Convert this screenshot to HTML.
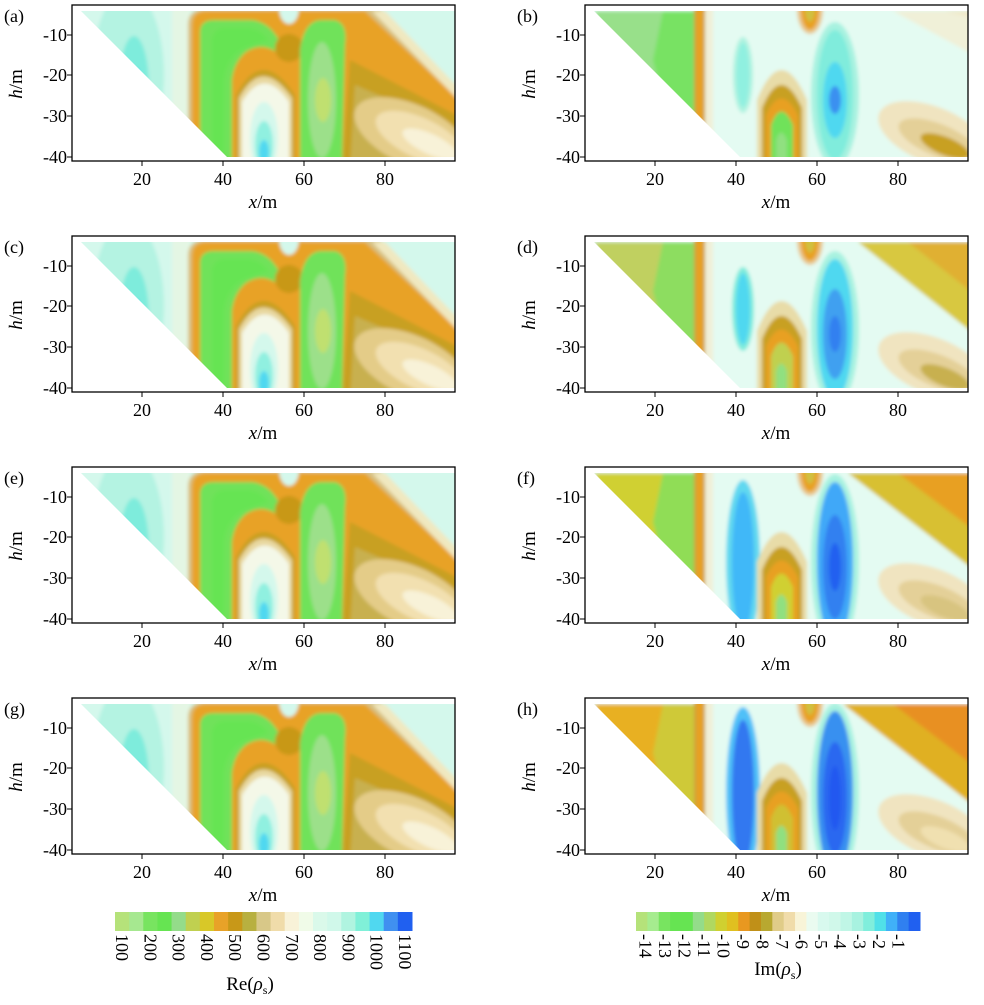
<!DOCTYPE html>
<html><head><meta charset="utf-8"><style>
html,body{margin:0;padding:0;background:#fff}
svg text{font-family:"Liberation Serif","DejaVu Serif",serif;fill:#000}
</style></head><body>
<svg id="s" width="984" height="1000" viewBox="0 0 984 1000" xmlns="http://www.w3.org/2000/svg">
<defs>
<filter id="bl" x="-5%" y="-5%" width="110%" height="110%"><feGaussianBlur stdDeviation="1.8"/></filter>
<clipPath id="cp"><polygon points="81,11 455,11 455,157 227,157"/></clipPath>
</defs>
</svg>
<script>
const s=document.getElementById('s');
function X(x){return 61+4.05*x}
const G='#70e25a';
const re=`
<rect x="70" y="0" width="400" height="170" fill="#d4f8ec"/>
<ellipse cx="128" cy="75" rx="36" ry="85" fill="#b4f3e2"/>
<ellipse cx="134" cy="88" rx="15" ry="52" fill="#7eecdc"/>
<ellipse cx="136" cy="100" rx="8" ry="32" fill="#50d8f0"/>
<ellipse cx="137" cy="103" rx="4" ry="13" fill="#3080f0"/>
<rect x="172" y="0" width="18" height="170" fill="#e4f6e4"/>
<path d="M188,170 L188,25 Q188,9 205,9 L380,9 L470,105 L470,170 Z" fill="#d8c080"/>
<path d="M192,170 L192,25 Q192,11 207,11 L365,11 L470,110 L470,170 Z" fill="#e8a228"/>
<polygon points="350,60 470,122 470,170 342,170" fill="#c8a020"/>
<polygon points="355,85 470,135 470,170 350,170" fill="#c8b050"/>
<ellipse cx="412" cy="135" rx="62" ry="30" fill="#e4cc88" transform="rotate(25 412 135)"/>
<ellipse cx="420" cy="138" rx="48" ry="20" fill="#f2e0b0" transform="rotate(25 420 138)"/>
<ellipse cx="430" cy="144" rx="30" ry="10" fill="#f8f2d8" transform="rotate(25 430 144)"/>
<polygon points="372,11 470,11 470,112" fill="#f0e8c0"/>
<polygon points="385,11 470,11 470,100" fill="#d4f8ec"/>
<path d="M200,170 L200,32 Q200,20 214,20 L252,20 Q270,22 280,42 L276,52 Q262,42 246,52 Q234,62 232,80 L232,170 Z" fill="${G}"/>
<path d="M212,170 L212,40 Q214,28 226,28 L248,28 Q262,30 268,40 L244,48 Q226,58 224,80 L224,170 Z" fill="#66e452"/>
<ellipse cx="289" cy="48" rx="14" ry="14" fill="#c89818"/>
<path d="M300,170 L300,50 Q304,20 322,20 L334,20 Q348,22 345,45 L342,170 Z" fill="${G}"/>
<ellipse cx="322" cy="100" rx="14" ry="58" fill="#9ce08a"/>
<ellipse cx="323" cy="100" rx="8" ry="22" fill="#c0e070"/>
<path d="M236,170 L236,95 Q262,45 295,95 L295,170 Z" fill="#c8a020"/>
<path d="M239,170 L239,98 Q262,55 292,98 L292,170 Z" fill="#e8d8a0"/>
<path d="M242,170 L242,102 Q264,65 289,102 L289,170 Z" fill="#f4f8e8"/>
<ellipse cx="264" cy="138" rx="14" ry="36" fill="#d4f8ec"/>
<ellipse cx="264" cy="145" rx="9" ry="24" fill="#90f0e0"/>
<ellipse cx="264" cy="152" rx="5" ry="12" fill="#50d8f0"/>
<ellipse cx="289" cy="8" rx="10" ry="16" fill="#d4f8ec"/>
`;
function im(o){return `
<rect x="70" y="0" width="400" height="170" fill="#e4fbf2"/>
<polygon points="81,11 183,11 183,157 150,157" fill="${o.l1}"/>
<polygon points="150,11 183,11 183,157 165,157 140,60" fill="${o.l2}" opacity="0.8"/>
<rect x="181" y="0" width="11" height="170" fill="#c8a040"/>
<rect x="183" y="0" width="7" height="170" fill="#e8a020"/>
<rect x="192" y="0" width="8" height="170" fill="#f0f0d8"/>
<ellipse cx="${o.bx}" cy="${o.by}" rx="${o.brx}" ry="${o.bry}" fill="${o.b1}"/>
<ellipse cx="${o.bx}" cy="${o.by}" rx="${o.brx*0.65}" ry="${o.bry*0.85}" fill="${o.b2}"/>
<path d="M244,170 L244,100 Q268,40 294,100 L294,170 Z" fill="#e8dca8"/>
<path d="M249,170 L249,108 Q268,62 289,108 L289,170 Z" fill="#c8a020"/>
<path d="M253,170 L253,115 Q268,82 285,115 L285,170 Z" fill="#e8a020"/>
<path d="M258,170 L258,125 Q268,98 280,125 L280,170 Z" fill="${o.ai}"/>
<path d="M263,170 L263,140 Q268,125 274,140 L274,170 Z" fill="#90e080"/>
<ellipse cx="297" cy="10" rx="13" ry="24" fill="#e8c890"/>
<ellipse cx="297" cy="10" rx="9" ry="20" fill="#e8a020"/>
<ellipse cx="297" cy="8" rx="5" ry="14" fill="#d0c040"/>
<ellipse cx="322" cy="${o.cy}" rx="24" ry="${o.cry+8}" fill="#a8f2e0"/>
<ellipse cx="322" cy="${o.cy}" rx="18" ry="${o.cry}" fill="${o.c1}"/>
<ellipse cx="322" cy="${o.cy+5}" rx="12" ry="${o.c2r}" fill="${o.c2}"/>
<ellipse cx="322" cy="${o.cy+5}" rx="6" ry="${o.c3r}" fill="${o.c3}"/>
<polygon points="${o.rx},11 470,11 470,${o.ry}" fill="${o.r1}"/>
<polygon points="${o.rx+50},11 470,11 470,${o.ry-40}" fill="${o.r2}"/>
<ellipse cx="420" cy="135" rx="58" ry="28" fill="#f0e4c0" transform="rotate(22 420 135)"/>
<ellipse cx="425" cy="140" rx="42" ry="16" fill="#e4d098" transform="rotate(22 425 140)"/>
<ellipse cx="432" cy="146" rx="26" ry="9" fill="${o.rb}" transform="rotate(22 432 146)"/>
`;}
const ims=[
 {l1:'#98e08a',l2:'#70e25a',bx:230,by:75,brx:10,bry:38,b1:'#b0f3e0',b2:'#90f0e0',ai:'#70e25a',cy:95,cry:65,c1:'#80ecdc',c2:'#50d8f0',c2r:38,c3:'#3a90f0',c3r:14,rx:380,ry:60,r1:'#f0f0d8',r2:'#f0e8c8',rb:'#c8a020'},
 {l1:'#c0d060',l2:'#80e060',bx:230,by:78,brx:11,bry:42,b1:'#80ecdc',b2:'#50d8f0',ai:'#c0d050',cy:98,cry:70,c1:'#50d8f0',c2:'#40a0f0',c2r:45,c3:'#3080f0',c3r:18,rx:345,ry:110,r1:'#d8c840',r2:'#e0b030',rb:'#c8b050'},
 {l1:'#d0d030',l2:'#80e060',bx:230,by:100,brx:17,bry:82,b1:'#60d8f0',b2:'#40b8f8',ai:'#d0d030',cy:100,cry:80,c1:'#40a8f8',c2:'#3080f0',c2r:52,c3:'#2060f0',c3r:24,rx:335,ry:115,r1:'#d8c030',r2:'#e8a020',rb:'#d8c480'},
 {l1:'#e8b020',l2:'#c8d040',bx:230,by:100,brx:17,bry:86,b1:'#50c0f8',b2:'#3078f0',ai:'#d0c030',cy:100,cry:82,c1:'#3890f0',c2:'#2a68f0',c2r:56,c3:'#2058f0',c3r:32,rx:330,ry:120,r1:'#e0b020',r2:'#e89020',rb:'#f0e0b0'}
];
const labs=['a','b','c','d','e','f','g','h'];
const F='font-family="Liberation Serif, DejaVu Serif, serif"';
let out='';
for(let r=0;r<4;r++)for(let c=0;c<2;c++){
 const dx=c*513, dy=r*231, i=r*2+c;
 const body=c==0?re:im(ims[r]);
 out+=`<g transform="translate(${dx},${dy})">
 <g clip-path="url(#cp)"><g filter="url(#bl)">${body}</g></g>
 <rect x="72" y="5" width="383" height="156" fill="none" stroke="#000" stroke-width="1.3"/>
 <text ${F} x="4" y="22" font-size="18">(${labs[i]})</text>`;
 [[-10,35],[-20,75],[-30,116],[-40,157]].forEach(t=>{out+=`<line x1="67" x2="72" y1="${t[1]}" y2="${t[1]}" stroke="#000"/><text ${F} x="67" y="${t[1]+6}" font-size="18" text-anchor="end">${t[0]}</text>`});
 [20,40,60,80].forEach(v=>{const x=X(v);out+=`<line x1="${x}" x2="${x}" y1="161" y2="166" stroke="#000"/><text ${F} x="${x}" y="185" font-size="18" text-anchor="middle">${v}</text>`});
 out+=`<text ${F} x="263" y="208" font-size="19" text-anchor="middle"><tspan font-style="italic">x</tspan>/m</text>
 <text ${F} transform="translate(22,84) rotate(-90)" font-size="19" text-anchor="middle"><tspan font-style="italic">h</tspan>/m</text></g>`;
}
const reC=['#b5e27a','#a6e890','#78e460','#66e452','#94dc8a','#c0d050','#d8c828','#e8a228','#c89818','#b8b040','#d8c888','#f0dcaa','#f8f2d8','#f0fbe8','#daf9ea','#d0f8ea','#b0f4e0','#80f0d8','#50d8f0','#4090f0','#2060f0'];
const imC=['#b5e27a','#a6ec8f','#78e460','#66e452','#66e452','#94dc8a','#b0d860','#d0d030','#e0c020','#e89820','#c09018','#b8a830','#e0cc88','#f0dcaa','#f8f4d8','#eafbf0','#d8f9ee','#d0f8ea','#c0f6e6','#a8f2e0','#80eedc','#50e0e8','#40b0f8','#3080f0','#2060f0'];
let w=(412-115)/reC.length;
reC.forEach((col,k)=>{out+=`<rect x="${115+k*w}" y="912" width="${w+0.5}" height="19" fill="${col}"/>`});
[100,200,300,400,500,600,700,800,900,1000,1100].forEach((v,k)=>{const x=115+w*(0.5+2*k);out+=`<text ${F} transform="translate(${x-6},934) rotate(90)" font-size="18">${v}</text>`});
out+=`<text ${F} x="250" y="990" font-size="19" text-anchor="middle">Re(<tspan font-style="italic">ρ</tspan><tspan font-size="12" dy="4">s</tspan><tspan dy="-4">)</tspan></text>`;
let w2=(920-636)/imC.length;
imC.forEach((col,k)=>{out+=`<rect x="${636+k*w2}" y="912" width="${w2+0.5}" height="19" fill="${col}"/>`});
for(let k=0;k<14;k++){const v=-14+k;const x=636+(920-636)*(k+0.5)/14.6;out+=`<text ${F} transform="translate(${x-6},934) rotate(90)" font-size="18">${v}</text>`}
out+=`<text ${F} x="778" y="975" font-size="19" text-anchor="middle">Im(<tspan font-style="italic">ρ</tspan><tspan font-size="12" dy="4">s</tspan><tspan dy="-4">)</tspan></text>`;
s.insertAdjacentHTML('beforeend',out);
</script>
</body></html>
